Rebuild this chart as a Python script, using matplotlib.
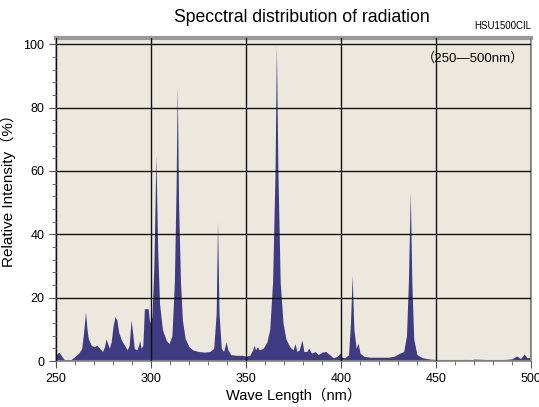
import matplotlib
matplotlib.use("Agg")
from matplotlib import pyplot as plt
from matplotlib.ticker import MultipleLocator

plt.rcParams['font.family'] = ['Liberation Sans', 'Noto Sans CJK JP', 'DejaVu Sans']

# wavelength (nm) and relative intensity (%)
wl = [250, 251.5, 253, 254.5, 256, 258, 260, 262, 263.5, 264.5, 265.5, 266.3, 267, 268.5,
      270, 271.5, 273, 274.5, 275.5, 276.3, 277.2, 278, 279, 280, 281, 282, 283, 284.5,
      286, 287.5, 288.5, 289.5, 290.3, 291.2, 292.5, 293.5, 294, 294.8, 295.7, 296.5,
      298.5, 299.3, 300.5, 301.5, 302.6, 303.5, 304.5, 306, 308, 309.5, 311, 312.3,
      313.2, 313.8, 314.5, 315.5, 316.5, 318, 320, 322, 325, 328, 331, 333, 334.3, 335,
      335.8, 337, 338.2, 339.5, 340.5, 342, 345, 348, 350, 352, 353.5, 354.3, 355, 356,
      357, 359, 361, 362.5, 364, 365.3, 366, 366.8, 368, 369.5, 371, 373, 374.8, 375.8,
      376.8, 378, 379.5, 380.5, 382, 383, 384.5, 386.5, 388, 390, 392, 394, 396, 398,
      399.5, 400.5, 402, 404, 405, 405.9, 406.8, 408, 409, 410, 412, 415, 420, 425, 428,
      431, 433, 434.5, 435.5, 436.5, 437.3, 438.3, 440, 443, 447, 450, 455, 462, 465,
      467, 470, 475, 480, 485, 490, 492.5, 494.5, 496.5, 498, 500]
inten = [2.0, 2.8, 1.5, 0.3, 0, 0.5, 1.5, 2.5, 4, 9, 15.5, 10, 7, 5,
         4.5, 5, 4, 3, 4.5, 7, 5.5, 4, 6, 11, 14, 13, 9, 6.5,
         5, 3.5, 5, 13, 9, 4, 3.5, 5, 6.5, 4, 5, 16.5,
         16.5, 12, 14, 30, 65, 35, 18, 10, 6.5, 5.5, 8, 25,
         55, 87, 50, 25, 13, 7, 4.5, 3.5, 3, 2.8, 3, 4, 15, 44,
         15, 4, 3, 6, 3.5, 2, 1.8, 1.8, 1.5, 1.8, 3.5, 5, 3.5, 4.5,
         3.5, 4, 6, 10, 25, 60, 100, 60, 25, 12, 7, 4.5, 3.5, 5.5,
         3, 3.5, 6.6, 3, 3, 4, 2.5, 3, 2, 2.8, 3, 2, 1, 1.5,
         2.5, 1.2, 1, 2, 12, 27, 10, 4, 5.7, 2.5, 1.5, 1.2, 1.2, 1.2, 1.5,
         2.5, 3, 8, 25, 53.5, 25, 7, 2, 1, 0.6, 0.5, 0.4, 0.4, 0.5,
         0.2, 0.6, 0.5, 0.4, 0.4, 0.7, 1.6, 0.8, 2.2, 1, 1.2]

fig = plt.figure(figsize=(5.39, 4.07), dpi=100)
ax = fig.add_axes([0.104, 0.113, 0.881, 0.794])
ax.set_facecolor('#ede8de')
ax.set_axisbelow(False)

ax.fill_between(wl, inten, 0, color='#3f3b80', lw=0, zorder=1)

ax.set_xlim(250, 500)
ax.set_ylim(0, 102)
ax.xaxis.set_major_locator(MultipleLocator(50))
ax.xaxis.set_minor_locator(MultipleLocator(10))
ax.yaxis.set_major_locator(MultipleLocator(20))
ax.yaxis.set_minor_locator(MultipleLocator(4))
ax.grid(True, which='major', color='#111111', lw=1.0)
ax.tick_params(which='both', direction='out', color='#555555', labelsize=9)
ax.tick_params(which='major', length=5)
ax.tick_params(which='minor', length=3)
for s in ax.spines.values():
    s.set_color('#999999')
    s.set_linewidth(1.5)
ax.spines['top'].set_linewidth(3)

ax.set_xlabel('Wave Length（nm）', fontsize=10.5, labelpad=2)
ax.set_ylabel('Relative Intensity（%）', fontsize=11, labelpad=6)
ax.yaxis.set_label_coords(-0.085, 0.54)
fig.text(0.56, 0.957, 'Specctral distribution of radiation', fontsize=12.7,
         ha='center', va='center')
fig.text(0.985, 0.937, 'HSU1500CIL', fontsize=7, ha='right', va='center')
ax.text(0.985, 0.955, '（250―500nm）', transform=ax.transAxes, fontsize=9.5,
        ha='right', va='top', zorder=3)

fig.savefig('out.png', dpi=100)
